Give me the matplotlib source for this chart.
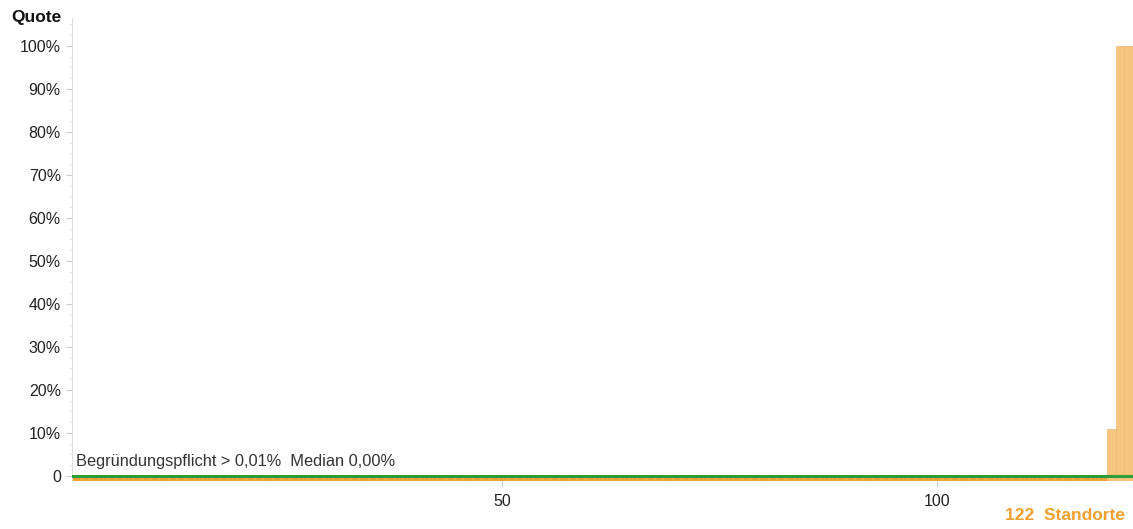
import numpy as np
import matplotlib
matplotlib.use("Agg")
import matplotlib.pyplot as plt
from matplotlib.ticker import MultipleLocator, FuncFormatter

plt.rcParams['font.family'] = ['Liberation Sans', 'DejaVu Sans']

# Data: quota per site (percent), sorted ascending
quote = [0.0] * 119 + [11.0, 100.0, 100.0]
standorte = np.arange(1, len(quote) + 1)
schwelle = 0.01   # Begründungspflicht threshold
median = 0.0
x_ticks = [50, 100]
y_ticks = [0, 10, 20, 30, 40, 50, 60, 70, 80, 90, 100]

fig = plt.figure(figsize=(11.33, 5.29), dpi=100)
ax = fig.add_axes([0.0635, 0.0907, 0.9365, 0.8753])

base = -1.2
colors = ['#E8A236' if q <= 0 else '#F5C47D' for q in quote]
edges = ['#EDB25A' if q <= 0 else '#EBB872' for q in quote]
ax.bar(standorte, np.array(quote) - base, bottom=base, width=1.0,
       color=colors, edgecolor=edges, linewidth=0.5, zorder=2)

# threshold line
ax.axhline(schwelle, color='#2E9E3A', linewidth=2.2, zorder=3)

ax.text(0.004, 0.025, 'Begründungspflicht > 0,01%  Median 0,00%',
        transform=ax.transAxes, fontsize=11.8, color='#333333', ha='left', va='bottom')

ax.set_xlim(0.5, len(quote) + 0.5)
ax.set_ylim(base, 106.5)

ax.set_xticks(x_ticks)
ax.set_yticks(y_ticks)
ax.yaxis.set_minor_locator(MultipleLocator(2.5))
ax.yaxis.set_major_formatter(FuncFormatter(lambda v, p: '0' if v == 0 else '%d%%' % v))

for s in ['top', 'right', 'bottom']:
    ax.spines[s].set_visible(False)
ax.spines['left'].set_color('#DDDDDD')
ax.spines['left'].set_linewidth(0.8)

ax.tick_params(axis='y', which='major', length=4, color='#CCCCCC', labelsize=11.5,
               labelcolor='#222222', pad=4)
ax.tick_params(axis='y', which='minor', length=2.5, color='#DDDDDD')
ax.tick_params(axis='x', which='major', length=4, color='#CCCCCC', labelsize=11.5,
               labelcolor='#222222', pad=5)

fig.text(0.010, 0.966, 'Quote', fontsize=12.5, fontweight='bold', color='#111111',
         ha='left', va='center')
fig.text(0.993, 0.025, '122  Standorte', fontsize=12.5, fontweight='bold', color='#F0A030',
         ha='right', va='center')

fig.savefig('out.png', dpi=100)
